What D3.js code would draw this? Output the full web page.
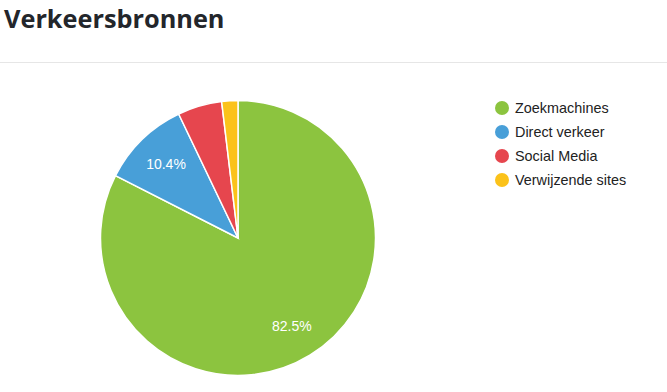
<!DOCTYPE html>
<html><head><meta charset="utf-8">
<script src="https://cdn.jsdelivr.net/npm/d3@7"></script>
<style>body{margin:0;background:#fff;}svg{display:block;}</style>
</head><body>
<script>
const categories = ["Zoekmachines", "Direct verkeer", "Social Media", "Verwijzende sites"];
const values = [82.5, 10.4, 5.2, 1.9];
const colors = ["#8cc43f", "#489fd8", "#e6464e", "#fbc21a"];
const title = "Verkeersbronnen";

const W = 667, H = 392;
const svg = d3.select("body").append("svg").attr("width", W).attr("height", H);

svg.append("text").attr("x", 4).attr("y", 28)
  .attr("font-family", "'Open Sans', sans-serif").attr("font-weight", 700)
  .attr("font-size", 25.3).attr("fill", "#23262b").text(title);

svg.append("line").attr("x1", 0).attr("x2", W).attr("y1", 62.5).attr("y2", 62.5)
  .attr("stroke", "#e6e6e6").attr("stroke-width", 1);

const data = categories.map((c, i) => ({c, v: values[i], col: colors[i]}));
const cx = 238, cy = 238, r = 137.5;
const pie = d3.pie().value(d => d.v).sort(null);
const arcs = pie(data);
const arc = d3.arc().innerRadius(0).outerRadius(r);
const labelArc = d3.arc().innerRadius(r * 0.75).outerRadius(r * 0.75);
const g = svg.append("g").attr("transform", `translate(${cx},${cy})`);
g.selectAll("path").data(arcs).join("path")
  .attr("d", arc).attr("fill", d => d.data.col)
  .attr("stroke", "#fff").attr("stroke-width", 1.5);
g.selectAll("text").data(arcs.filter(d => d.data.v >= 10)).join("text")
  .attr("transform", d => `translate(${labelArc.centroid(d)})`)
  .attr("text-anchor", "middle").attr("dy", "0.35em")
  .attr("font-family", "'Liberation Sans', Arial, sans-serif").attr("font-size", 14)
  .attr("fill", "#fff").text(d => d.data.v.toFixed(1) + "%");

const lg = svg.append("g");
const items = lg.selectAll("g").data(data).join("g")
  .attr("transform", (d, i) => `translate(502,${108 + i * 24})`);
items.append("circle").attr("r", 7).attr("fill", d => d.col);
items.append("text").attr("x", 13).attr("dy", "0.35em")
  .attr("font-family", "'Liberation Sans', Arial, sans-serif").attr("font-size", 14.4)
  .attr("fill", "#222").text(d => d.c);
</script>
</body></html>
